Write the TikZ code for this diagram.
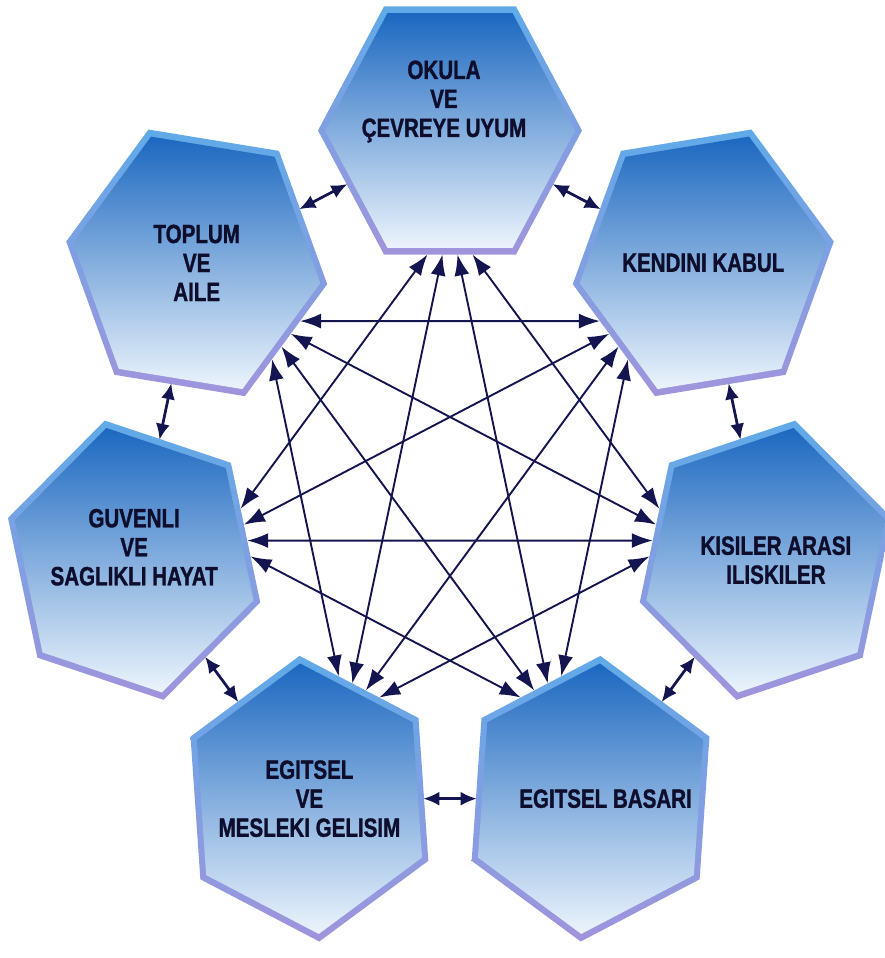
\documentclass[tikz,border=0pt]{standalone}
\usepackage{fontspec}
\usepackage{tikz}
\usetikzlibrary{arrows.meta}
\usetikzlibrary{calc}
\setmainfont{Liberation Sans}
\newfontfamily\hexfont[FakeStretch=0.78, FakeBold=1.2]{Liberation Sans Bold}
\definecolor{navy}{RGB}{20,20,80}
\definecolor{hextop}{RGB}{28,104,192}
\definecolor{hexmid}{RGB}{66,142,212}
\definecolor{hexbot}{RGB}{236,244,252}
\definecolor{bevtop}{RGB}{96,170,232}
\definecolor{bevbot}{RGB}{160,148,220}
\definecolor{inktext}{RGB}{14,14,44}
\tikzset{>={Latex[length=4.2mm,width=3mm]}}
\tikzset{
    link/.style={<->, navy, line width=0.38mm},
    near link/.style={<->, navy, line width=0.55mm, >={Latex[length=3.2mm,width=2.8mm]}},
    hextext/.style={font=\hexfont\fontsize{15}{16.5}\selectfont, text=inktext, align=center},
}
\def\hexagon[#1](#2)(#3:#4)% Syntax: [shade options] (center) (rotation:radius)
    { \shade[#1,shift={(#2)}] (#3:#4) -- (#3+60:#4) -- (#3+120:#4) -- (#3+180:#4) -- (#3+240:#4) -- (#3+300:#4) -- cycle; }

\begin{document}
\begin{tikzpicture}[x=0.2mm, y=0.217mm]
		\useasboundingbox (-90mm,96.4mm) rectangle (86.8mm,-95.2mm);
		% centres of the seven cells, counterclockwise from the top
		\foreach \k in {0,...,6}
			\coordinate (c\k) at (90+\k*360/7:324);
		\foreach \k in {0,...,6}
		{
			\pgfmathsetmacro\r{\k*360/7}
			\hexagon[top color=bevtop, bottom color=bevbot](c\k)(\r:132)
			\hexagon[top color=hextop, middle color=hexmid, bottom color=hexbot](c\k)(\r:125)
		}
		% ports on the inner side of each cell
		\foreach \k in {0,...,6}
			\foreach \j/\t in {2/1.5, 3/0.5, 4/-0.5, 5/-1.5}
			{
				\pgfmathsetmacro\r{\k*360/7}
				\pgfmathsetmacro\d{\t*15}
				\coordinate (p\k-\j) at ($(c\k)+(270+\r:114.3)+(180+\r:\d)$);
			}
		\foreach \k in {0,...,6}
		{
			\pgfmathtruncatemacro\a{mod(\k+2,7)}
			\pgfmathtruncatemacro\b{mod(\k+3,7)}
			\draw[link] (p\k-2) -- (p\a-5);
			\draw[link] (p\k-3) -- (p\b-4);
		}
		% neighbours
		\foreach \k in {0,...,6}
		{
			\pgfmathtruncatemacro\a{mod(\k+1,7)}
			\coordinate (s\k) at ($(c\k)!0.405!(c\a)$);
			\coordinate (e\k) at ($(c\k)!0.595!(c\a)$);
			\draw[near link] (s\k) -- (e\k);
		}
		\node[hextext, yshift=5.8mm, xshift=-1.2mm] (okul) at (c0) {OKULA\\VE\\ÇEVREYE UYUM};
		\node[hextext] (toplum) at (c1) {TOPLUM\\VE\\AILE};
		\node[hextext, yshift=2.6mm] (guven) at (c2) {GUVENLI\\VE\\SAGLIKLI HAYAT};
		\node[hextext] (mesleki) at (c3) {EGITSEL\\VE\\MESLEKI GELISIM};
		\node[hextext, xshift=3mm] (basari) at (c4) {EGITSEL BASARI};
		\node[hextext, xshift=2mm] (iliski) at (c5) {KISILER ARASI\\ILISKILER};
		\node[hextext] (kendi) at (c6) {KENDINI KABUL};
	\end{tikzpicture}
\end{document}
